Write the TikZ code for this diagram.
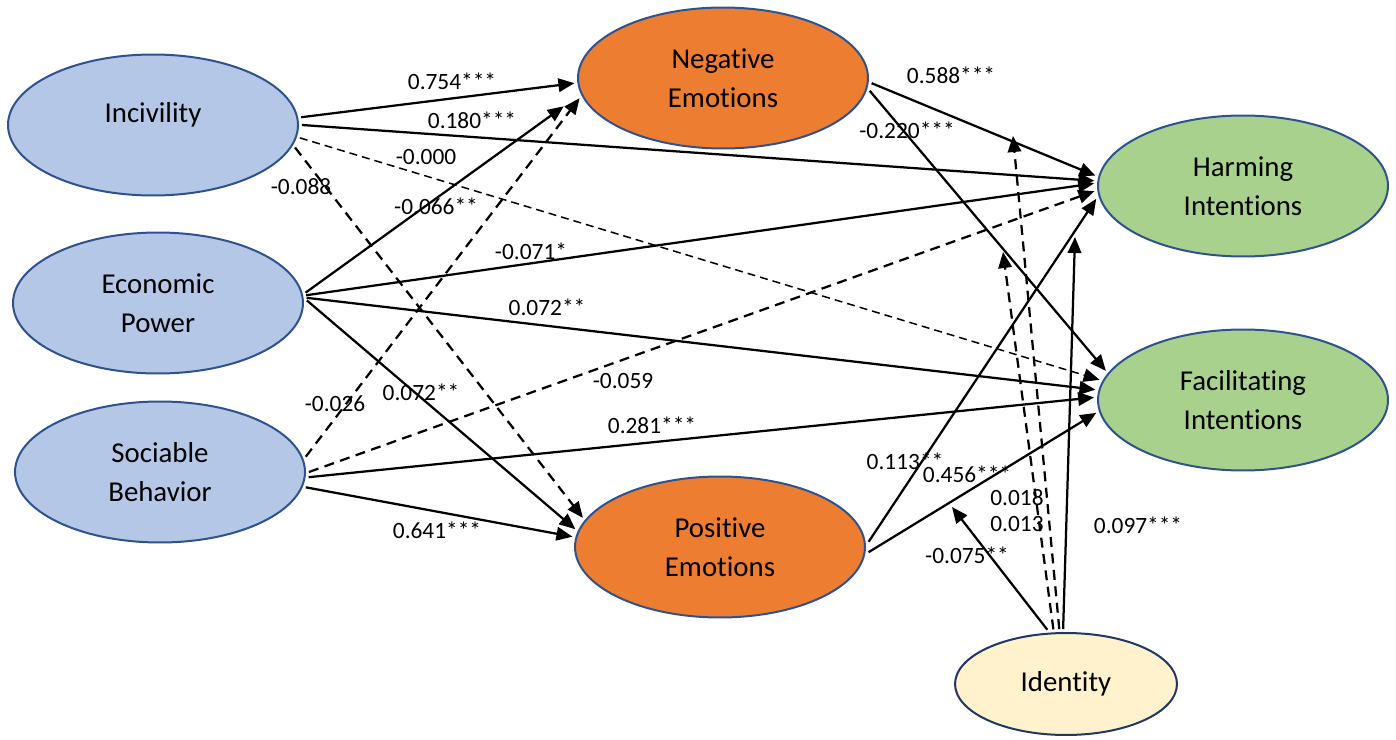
\documentclass[tikz,border=0pt]{standalone}
\usepackage{fontspec}
\setmainfont{Carlito}[Ligatures=NoCommon]
\usetikzlibrary{arrows.meta, shapes.geometric}

\definecolor{latentBlue}{HTML}{B4C7E7}
\definecolor{emoOrange}{HTML}{ED7D31}
\definecolor{intentGreen}{HTML}{A9D18E}
\definecolor{idYellow}{HTML}{FFF2CC}
\definecolor{rimBlue}{HTML}{2F528F}
\definecolor{rimNavy}{HTML}{203864}

\begin{document}
\begin{tikzpicture}[
  x=0.02cm, y=-0.02cm,
  construct/.style={ellipse, draw=rimBlue, line width=0.04cm,
                    minimum width=5.8cm, minimum height=2.82cm,
                    inner sep=0pt, outer sep=0.08cm, align=center,
                    font=\fontsize{16.4}{22.1}\selectfont},
  pred/.style={construct, fill=latentBlue},
  emo/.style={construct, fill=emoOrange},
  intent/.style={construct, fill=intentGreen},
  moder/.style={construct, fill=idYellow, draw=rimNavy,
                minimum width=4.44cm, minimum height=2.04cm},
  sig/.style={-{Triangle[length=0.32cm, width=0.27cm]}, line width=0.045cm},
  nsig/.style={sig, dash pattern=on 0.2cm off 0.13cm},
  nsigthin/.style={sig, line width=0.03cm, dash pattern=on 0.16cm off 0.1cm},
  coef/.style={font=\fontsize{13.3}{16}\selectfont, inner sep=1pt}
]
  \useasboundingbox (0,0) rectangle (1396,740);

  \node[pred, text depth=0.52cm] (inc) at (153,125) {Incivility};
  \node[pred]   (eco)  at (158,303) {Economic\\Power};
  \node[pred]   (soc)  at (160,472) {Sociable\\Behavior};
  \node[emo]    (neg)  at (723,78)  {Negative\\Emotions};
  \node[emo]    (pos)  at (720,547) {Positive\\Emotions};
  \node[intent] (harm) at (1243,186) {Harming\\Intentions};
  \node[intent] (fac)  at (1243,400) {Facilitating\\Intentions};
  \node[moder]  (iden) at (1066,684) {Identity};

  % targets of the moderation arrows
  \coordinate (modNH)  at (1013,136);
  \coordinate (modNF)  at (1003,252);
  \coordinate (modPF)  at (952,507);
  \coordinate (harmIn) at (1075,237);

  % edges
  \draw[sig]      (inc.3)   -- (neg.182);
  \draw[sig]      (inc.0)   -- (harm.178);
  \draw[nsigthin] (inc.-5)  -- (fac.172);
  \draw[nsig]     (inc.-9)  -- (pos.168);
  \draw[sig, shorten >=0.36cm] (eco.4) -- (neg.187);
  \draw[sig]      (eco.3)   -- (harm.179);
  \draw[sig]      (eco.2)   -- (fac.176);
  \draw[sig]      (eco.1)   -- (pos.173);
  \draw[nsig]     (soc.6)   -- (neg.188);
  \draw[nsig]     (soc.0)   -- (harm.182);
  \draw[sig]      (soc.-2)  -- (fac.179);
  \draw[sig]      (soc.-6)  -- (pos.176);
  \draw[sig]      (neg.-2)  -- (harm.176);
  \draw[sig]      (neg.-5)  -- (fac.168);
  \draw[sig]      (pos.2)   -- (harm.185);
  \draw[sig]      (pos.-2)  -- (fac.185);
  \draw[sig]      (iden.109) -- (modPF);
  \draw[nsig]     (iden.97)  -- (modNH);
  \draw[nsig]     (iden.103) -- (modNF);
  \draw[sig]      (iden.93)  -- (harmIn);

  % coefficients
  \node[coef] (cIncNeg)  at (452,81)   {0.754***};
  \node[coef] (cIncHarm) at (472,120)  {0.180***};
  \node[coef] (cIncFac)  at (426,157)  {-0.000};
  \node[coef] (cIncPos)  at (301,187)  {-0.088};
  \node[coef] (cEcoNeg)  at (436,206)  {-0.066**};
  \node[coef] (cEcoHarm) at (531,251)  {-0.071*};
  \node[coef] (cEcoFac)  at (547,307)  {0.072**};
  \node[coef] (cEcoPos)  at (421,392)  {0.072**};
  \node[coef] (cSocNeg)  at (335,404)  {-0.026};
  \node[coef] (cSocHarm) at (623,381)  {-0.059};
  \node[coef] (cSocFac)  at (652,425)  {0.281***};
  \node[coef] (cSocPos)  at (437,530)  {0.641***};
  \node[coef] (cNegHarm) at (951,75)   {0.588***};
  \node[coef] (cNegFac)  at (907,130)  {-0.220***};
  \node[coef] (cPosHarm) at (905,461)  {0.113**};
  \node[coef] (cPosFac)  at (967,474)  {0.456***};
  \node[coef] (cModNH)   at (1017,498) {0.018};
  \node[coef] (cModNF)   at (1017,524) {0.013};
  \node[coef] (cIdHarm)  at (1138,525) {0.097***};
  \node[coef] (cModPF)   at (967,555)  {-0.075**};
\end{tikzpicture}
\end{document}
